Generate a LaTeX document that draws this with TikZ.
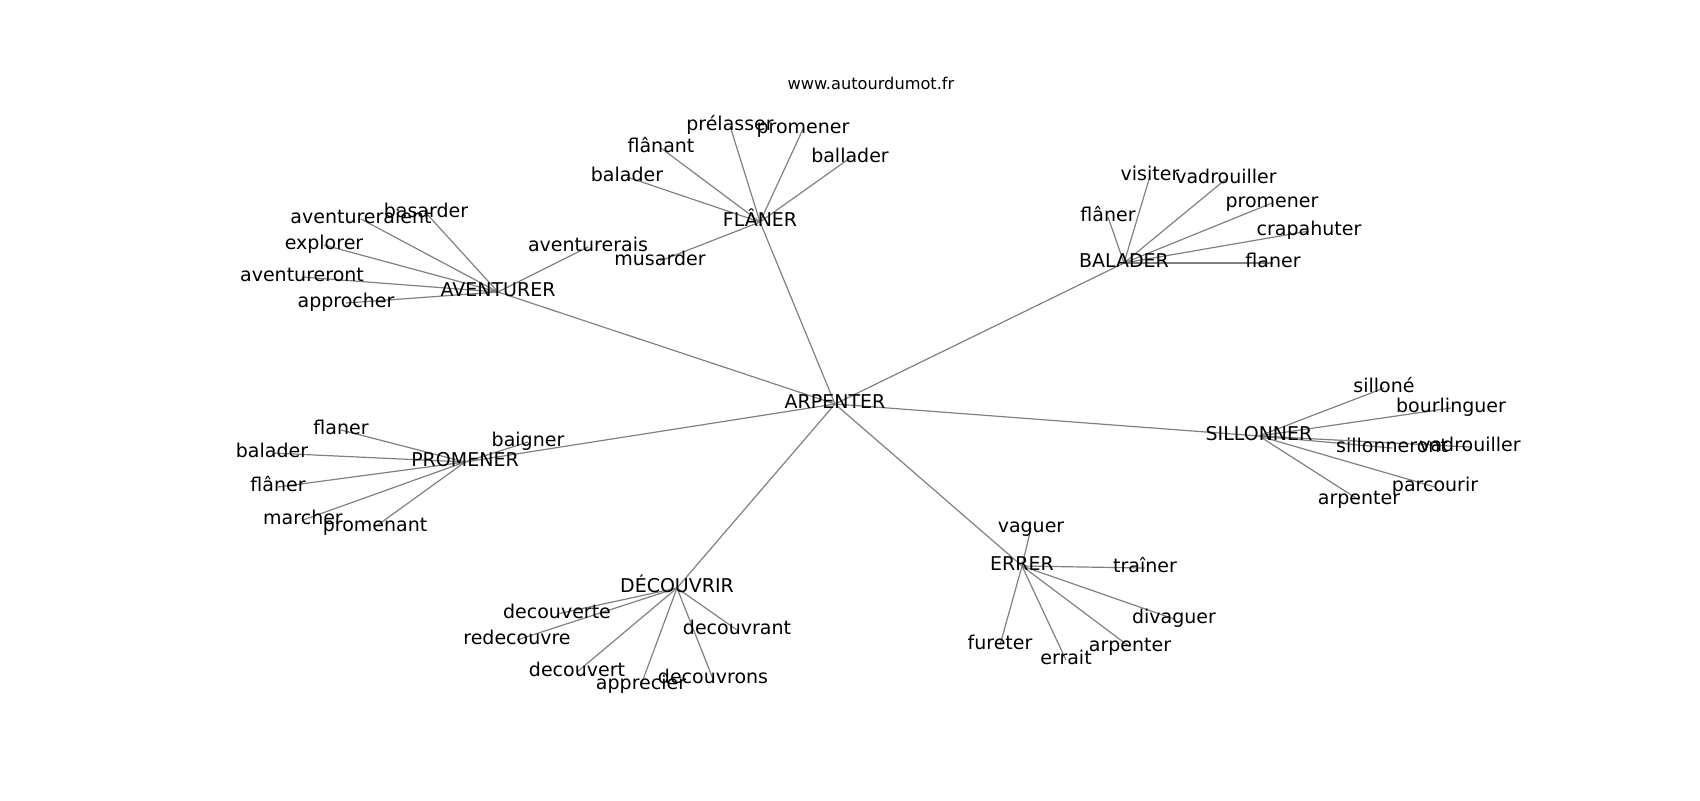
\documentclass[tikz,border=0pt]{standalone}
\usepackage{fontspec}
\setmainfont{DejaVu Sans}
\usetikzlibrary{backgrounds}
\tikzset{
    word/.style={inner sep=0pt, font=\fontsize{9.5}{11}\selectfont, text height=7.2pt, text depth=2.3pt},
    link/.style={draw=gray, line width=0.6pt}
}
\begin{document}
\begin{tikzpicture}[x=0.5pt,y=-0.5pt]
                \useasboundingbox (0,0) rectangle (1700,800);
                \node[inner sep=0pt, font=\fontsize{8.1}{10}\selectfont] (site) at (871,83) {www.autourdumot.fr};

                \node[word] (arp) at (835,404) {ARPENTER};
                \node[word] (fla) at (760,222) {FLÂNER};
                \node[word] (ave) at (498,292) {AVENTURER};
                \node[word] (bal) at (1124,263) {BALADER};
                \node[word] (sil) at (1259,436) {SILLONNER};
                \node[word] (pro) at (465,462) {PROMENER};
                \node[word] (dec) at (677,588) {DÉCOUVRIR};
                \node[word] (err) at (1022,566) {ERRER};

                \node[word] (ave1) at (426,213) {basarder};
                \node[word] (ave2) at (361,219) {aventureraient};
                \node[word] (ave3) at (324,245) {explorer};
                \node[word] (ave4) at (302,277) {aventureront};
                \node[word] (ave5) at (346,303) {approcher};
                \node[word] (ave6) at (588,247) {aventurerais};

                \node[word] (fla1) at (730,126) {prélasser};
                \node[word] (fla2) at (803,129) {promener};
                \node[word] (fla3) at (850,158) {ballader};
                \node[word] (fla4) at (661,148) {flânant};
                \node[word] (fla5) at (627,177) {balader};
                \node[word] (fla6) at (660,261) {musarder};

                \node[word] (bal1) at (1150,176) {visiter};
                \node[word] (bal2) at (1226,179) {vadrouiller};
                \node[word] (bal3) at (1108,217) {flâner};
                \node[word] (bal4) at (1272,203) {promener};
                \node[word] (bal5) at (1309,231) {crapahuter};
                \node[word] (bal6) at (1273,263) {flaner};

                \node[word] (sil1) at (1384,388) {silloné};
                \node[word] (sil2) at (1451,408) {bourlinguer};
                \node[word] (sil3) at (1392,448) {sillonneront};
                \node[word] (sil4) at (1470,447) {vadrouiller};
                \node[word] (sil5) at (1435,487) {parcourir};
                \node[word] (sil6) at (1359,500) {arpenter};

                \node[word] (pro1) at (341,430) {flaner};
                \node[word] (pro2) at (272,453) {balader};
                \node[word] (pro3) at (278,487) {flâner};
                \node[word] (pro4) at (303,520) {marcher};
                \node[word] (pro5) at (375,527) {promenant};
                \node[word] (pro6) at (528,442) {baigner};

                \node[word] (dec1) at (557,614) {decouverte};
                \node[word] (dec2) at (517,640) {redecouvre};
                \node[word] (dec3) at (737,630) {decouvrant};
                \node[word] (dec4) at (577,672) {decouvert};
                \node[word] (dec5) at (641,685) {apprecier};
                \node[word] (dec6) at (713,679) {decouvrons};

                \node[word] (err1) at (1031,528) {vaguer};
                \node[word] (err2) at (1145,568) {traîner};
                \node[word] (err3) at (1174,619) {divaguer};
                \node[word] (err4) at (1000,645) {fureter};
                \node[word] (err5) at (1066,660) {errait};
                \node[word] (err6) at (1130,647) {arpenter};

                \begin{scope}[on background layer]
                \draw[link] (arp.center) to (fla.center); \draw[link] (arp.center) to (ave.center); \draw[link] (arp.center) to (bal.center); \draw[link] (arp.center) to (sil.center);
                \draw[link] (arp.center) to (pro.center); \draw[link] (arp.center) to (dec.center); \draw[link] (arp.center) to (err.center);
                \draw[link] (ave.center) to (ave1.center); \draw[link] (ave.center) to (ave2.center); \draw[link] (ave.center) to (ave3.center); \draw[link] (ave.center) to (ave4.center); \draw[link] (ave.center) to (ave5.center); \draw[link] (ave.center) to (ave6.center);
                \draw[link] (fla.center) to (fla1.center); \draw[link] (fla.center) to (fla2.center); \draw[link] (fla.center) to (fla3.center); \draw[link] (fla.center) to (fla4.center); \draw[link] (fla.center) to (fla5.center); \draw[link] (fla.center) to (fla6.center);
                \draw[link] (bal.center) to (bal1.center); \draw[link] (bal.center) to (bal2.center); \draw[link] (bal.center) to (bal3.center); \draw[link] (bal.center) to (bal4.center); \draw[link] (bal.center) to (bal5.center); \draw[link] (bal.center) to (bal6.center);
                \draw[link] (sil.center) to (sil1.center); \draw[link] (sil.center) to (sil2.center); \draw[link] (sil.center) to (sil3.center); \draw[link] (sil.center) to (sil4.center); \draw[link] (sil.center) to (sil5.center); \draw[link] (sil.center) to (sil6.center);
                \draw[link] (pro.center) to (pro1.center); \draw[link] (pro.center) to (pro2.center); \draw[link] (pro.center) to (pro3.center); \draw[link] (pro.center) to (pro4.center); \draw[link] (pro.center) to (pro5.center); \draw[link] (pro.center) to (pro6.center);
                \draw[link] (dec.center) to (dec1.center); \draw[link] (dec.center) to (dec2.center); \draw[link] (dec.center) to (dec3.center); \draw[link] (dec.center) to (dec4.center); \draw[link] (dec.center) to (dec5.center); \draw[link] (dec.center) to (dec6.center);
                \draw[link] (err.center) to (err1.center); \draw[link] (err.center) to (err2.center); \draw[link] (err.center) to (err3.center); \draw[link] (err.center) to (err4.center); \draw[link] (err.center) to (err5.center); \draw[link] (err.center) to (err6.center);
                \end{scope}
            \end{tikzpicture}
\end{document}
